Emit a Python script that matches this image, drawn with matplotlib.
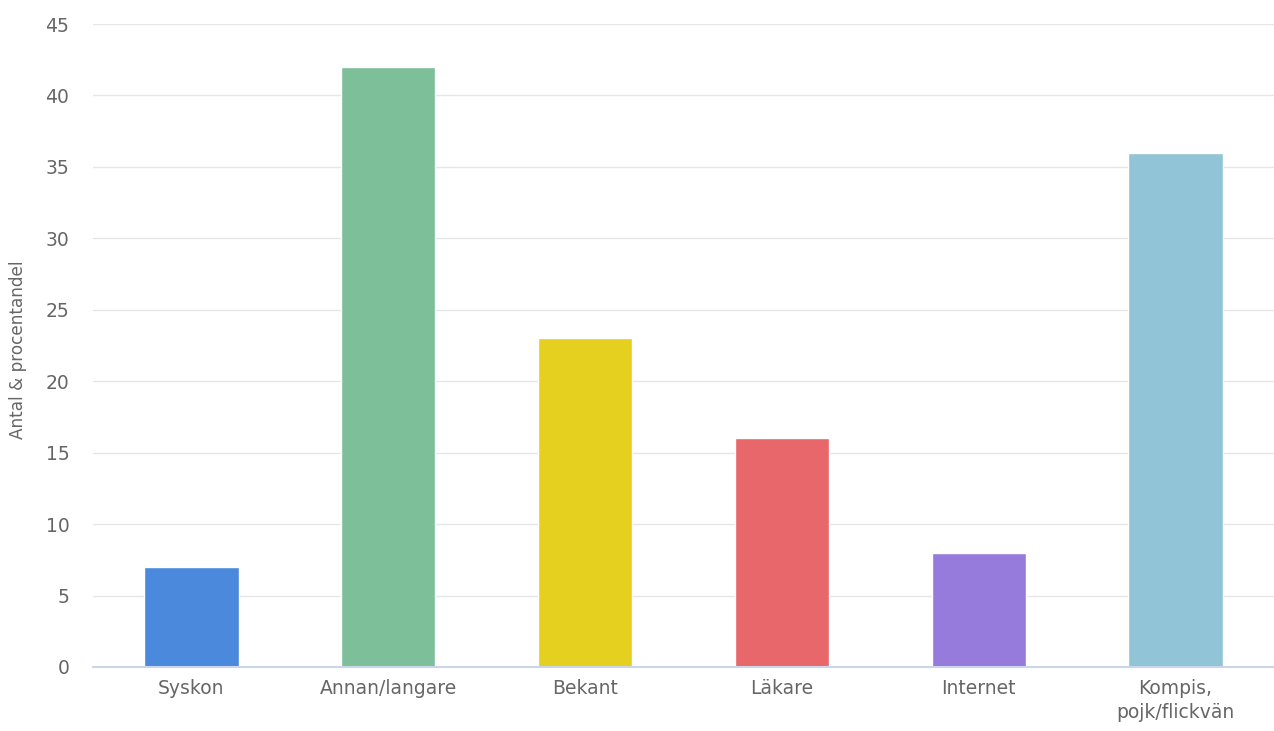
import matplotlib
matplotlib.use("Agg")
import matplotlib.pyplot as plt

categories = ["Syskon", "Annan/langare", "Bekant", "Läkare", "Internet", "Kompis,\npojk/flickvän"]
values = [7, 42, 23, 16, 8, 36]
colors = ["#4A89DC", "#7CBF99", "#E5CF1F", "#E8676A", "#967ADC", "#91C4D6"]
yticks = [0, 5, 10, 15, 20, 25, 30, 35, 40, 45]
ylabel = "Antal & procentandel"

W, H = 1274, 731
fig = plt.figure(figsize=(W / 100, H / 100), dpi=100)
ax = fig.add_axes([93 / W, 1 - 667 / H, (W - 93) / W, (667 - 24) / H])

x = list(range(len(categories)))
ax.bar(x, values, width=0.48, color=colors, edgecolor="white", linewidth=1, zorder=3)

ax.set_xlim(-0.5, len(categories) - 0.5)
ax.set_ylim(0, 45)
ax.set_yticks(yticks)
ax.set_yticklabels([str(t) for t in yticks], fontsize=13.5, color="#666666")
ax.set_xticks(x)
ax.set_xticklabels(categories, fontsize=13.5, color="#666666", linespacing=1.3)
ax.tick_params(axis="y", length=0, pad=17)
ax.tick_params(axis="x", length=0, pad=9)

ax.grid(axis="y", color="#e6e6e6", linewidth=1, zorder=0)
ax.set_axisbelow(True)
for s in ["top", "right", "left"]:
    ax.spines[s].set_visible(False)
ax.spines["bottom"].set_color("#ccd6eb")
ax.spines["bottom"].set_linewidth(1.5)
ax.spines["bottom"].set_zorder(4)

fig.text(18 / W, 1 - 350 / H, ylabel, rotation=90, ha="center", va="center",
         fontsize=12.2, color="#666666")

fig.savefig("out.png", dpi=100, facecolor="white")
